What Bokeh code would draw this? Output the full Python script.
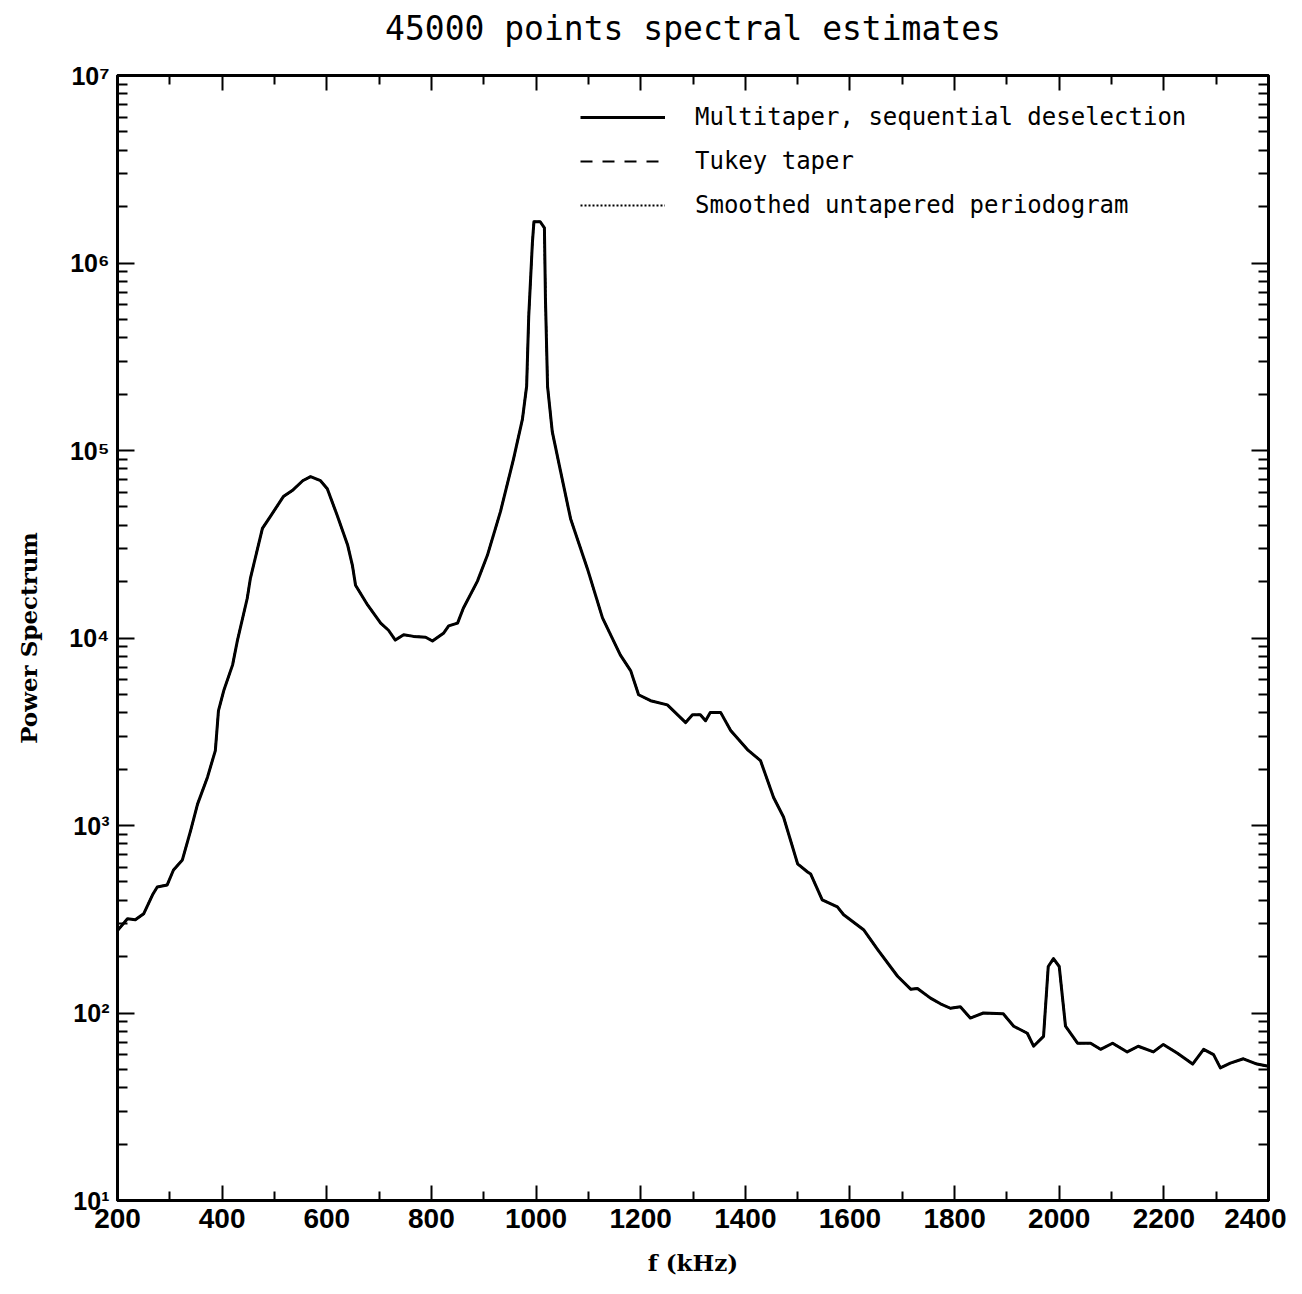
from bokeh.plotting import figure
from bokeh.models import (FixedTicker, LinearAxis, LogAxis, CustomJSTickFormatter,
                          Legend, LegendItem, Range1d, ColumnDataSource)
from bokeh.embed import file_html
from bokeh.resources import INLINE

# ---- data (f in kHz, power spectrum) ----
freq_khz = [
    200, 219, 234, 250, 267, 276, 295, 307, 324, 340,
    353, 372, 387, 393, 403, 420, 429, 448, 454, 477,
    492, 517, 534, 554, 569, 588, 601, 620, 640, 649,
    655, 678, 703, 718, 731, 747, 766, 789, 802, 823,
    833, 850, 861, 888, 907, 932, 951, 957, 974, 982,
    986, 993, 996, 1008, 1016, 1018, 1022, 1031, 1047, 1066,
    1098, 1127, 1161, 1181, 1196, 1219, 1251, 1286, 1299, 1314,
    1324, 1333, 1353, 1372, 1404, 1429, 1454, 1473, 1500, 1519,
    1525, 1547, 1576, 1588, 1626, 1653, 1691, 1716, 1729, 1754,
    1773, 1792, 1811, 1830, 1855, 1893, 1913, 1939, 1951, 1970,
    1979, 1989, 2000, 2012, 2035, 2060, 2079, 2102, 2130, 2151,
    2180, 2199, 2226, 2255, 2276, 2295, 2308, 2327, 2352, 2378, 2400,
]
power = [
    275, 318, 314, 338, 427, 470, 482, 579, 655, 945,
    1300, 1810, 2510, 4100, 5230, 7190, 9640, 16300, 20800, 38400,
    44400, 56800, 61100, 69000, 72500, 69000, 62500, 45000, 31200, 24400,
    19100, 15000, 12000, 11000, 9750, 10400, 10200, 10100, 9640, 10600,
    11600, 12000, 14400, 20100, 27600, 47200, 77100, 90300, 147000, 220000,
    519000, 1280000, 1660000, 1660000, 1540000, 638000, 220000, 126000, 77100, 43300,
    23500, 12800, 8130, 6680, 4980, 4630, 4400, 3540, 3900, 3900,
    3620, 4000, 4000, 3210, 2540, 2220, 1410, 1110, 624, 565,
    551, 401, 368, 334, 278, 218, 157, 134, 135, 120,
    112, 106, 108, 94, 100, 99, 85, 78, 66.5, 75,
    177, 195, 177, 85, 69, 69, 64, 69, 62, 66.5,
    62, 68, 61, 53.4, 64, 60, 51, 54, 57, 53.4, 52,
]
assert len(freq_khz) == len(power)

x_major_ticks = [200, 400, 600, 800, 1000, 1200, 1400, 1600, 1800, 2000, 2200, 2400]
x_minor_ticks = [300, 500, 700, 900, 1100, 1300, 1500, 1700, 1900, 2100, 2300]
y_major_ticks = [1e1, 1e2, 1e3, 1e4, 1e5, 1e6, 1e7]
y_minor_ticks = [m * d for d in y_major_ticks[:-1] for m in range(2, 10)]

title_text = "45000 points spectral estimates"
x_label = "f (kHz)"
y_label = "Power Spectrum"
legend_labels = ["Multitaper, sequential deselection", "Tukey taper",
                 "Smoothed untapered periodogram"]

# ---- figure ----
p = figure(width=1286, height=1278, x_range=Range1d(200, 2400), y_range=Range1d(10, 1e7),
           y_axis_type="log", output_backend="svg", toolbar_location=None,
           min_border_left=117, min_border_right=18, min_border_top=75, min_border_bottom=73)
p.background_fill_color = "white"
p.border_fill_color = "white"
p.outline_line_color = "black"
p.outline_line_width = 3
p.grid.visible = False

xt = FixedTicker(ticks=x_major_ticks, minor_ticks=x_minor_ticks)
yt = FixedTicker(ticks=y_major_ticks, minor_ticks=y_minor_ticks)
blank = CustomJSTickFormatter(code="return '';")
sup_fmt = CustomJSTickFormatter(code="""
const sup = {'0':'\u2070','1':'\u00b9','2':'\u00b2','3':'\u00b3','4':'\u2074',
             '5':'\u2075','6':'\u2076','7':'\u2077','8':'\u2078','9':'\u2079','-':'\u207b'};
const e = Math.round(Math.log10(tick));
return '10' + String(e).split('').map(c => sup[c]).join('');
""")

def style_axis(ax, major_in, minor_in):
    ax.axis_line_width = 3
    ax.axis_line_color = "black"
    ax.major_tick_in = major_in
    ax.major_tick_out = 0
    ax.minor_tick_in = minor_in
    ax.minor_tick_out = 0
    ax.major_tick_line_width = 2
    ax.minor_tick_line_width = 2
    ax.major_tick_line_color = "black"
    ax.minor_tick_line_color = "black"

xa = p.xaxis[0]
xa.ticker = xt
style_axis(xa, 15, 9)
xa.major_label_text_font = "Liberation Sans"
xa.major_label_text_font_style = "bold"
xa.major_label_text_font_size = "28px"
xa.major_label_text_color = "black"
xa.major_label_standoff = 8
xa.axis_label = x_label
xa.axis_label_text_font = "DejaVu Serif"
xa.axis_label_text_font_style = "bold"
xa.axis_label_text_font_size = "23px"
xa.axis_label_text_color = "black"
xa.axis_label_standoff = 18

ya = p.yaxis[0]
ya.ticker = yt
ya.formatter = sup_fmt
style_axis(ya, 17, 10)
ya.major_label_text_font = "Liberation Sans"
ya.major_label_text_font_style = "bold"
ya.major_label_text_font_size = "25px"
ya.major_label_text_color = "black"
ya.major_label_standoff = 8
ya.axis_label = y_label
ya.axis_label_text_font = "DejaVu Serif"
ya.axis_label_text_font_style = "bold"
ya.axis_label_text_font_size = "23px"
ya.axis_label_text_color = "black"
ya.axis_label_standoff = 24

# top axis carries the chart title as its label
top = LinearAxis(ticker=xt, formatter=blank, major_label_standoff=0)
style_axis(top, 15, 9)
top.axis_label = title_text
top.axis_label_text_font = "DejaVu Sans Mono"
top.axis_label_text_font_style = "normal"
top.axis_label_text_font_size = "33px"
top.axis_label_text_color = "black"
top.axis_label_standoff = 28
p.add_layout(top, "above")
right = LogAxis(ticker=yt, formatter=blank, major_label_standoff=0)
style_axis(right, 17, 10)
p.add_layout(right, "right")

src = ColumnDataSource(data=dict(f=freq_khz, P=power))
r_tukey = p.line("f", "P", source=src, line_color="black", line_width=2, line_dash="12 10")
r_smooth = p.line("f", "P", source=src, line_color="black", line_width=2, line_dash="2 2")
r_multi = p.line("f", "P", source=src, line_color="black", line_width=3, line_join="round")

legend = Legend(items=[LegendItem(label=legend_labels[0], renderers=[r_multi]),
                       LegendItem(label=legend_labels[1], renderers=[r_tukey]),
                       LegendItem(label=legend_labels[2], renderers=[r_smooth])],
                location=(463, 980), glyph_width=85, glyph_height=30, label_height=30,
                spacing=14, label_standoff=30, padding=0, margin=0,
                border_line_alpha=0, background_fill_alpha=0,
                label_text_font="DejaVu Sans Mono", label_text_font_size="24px",
                label_text_color="black")
p.add_layout(legend)

open("out.html", "w").write(file_html(p, INLINE))
